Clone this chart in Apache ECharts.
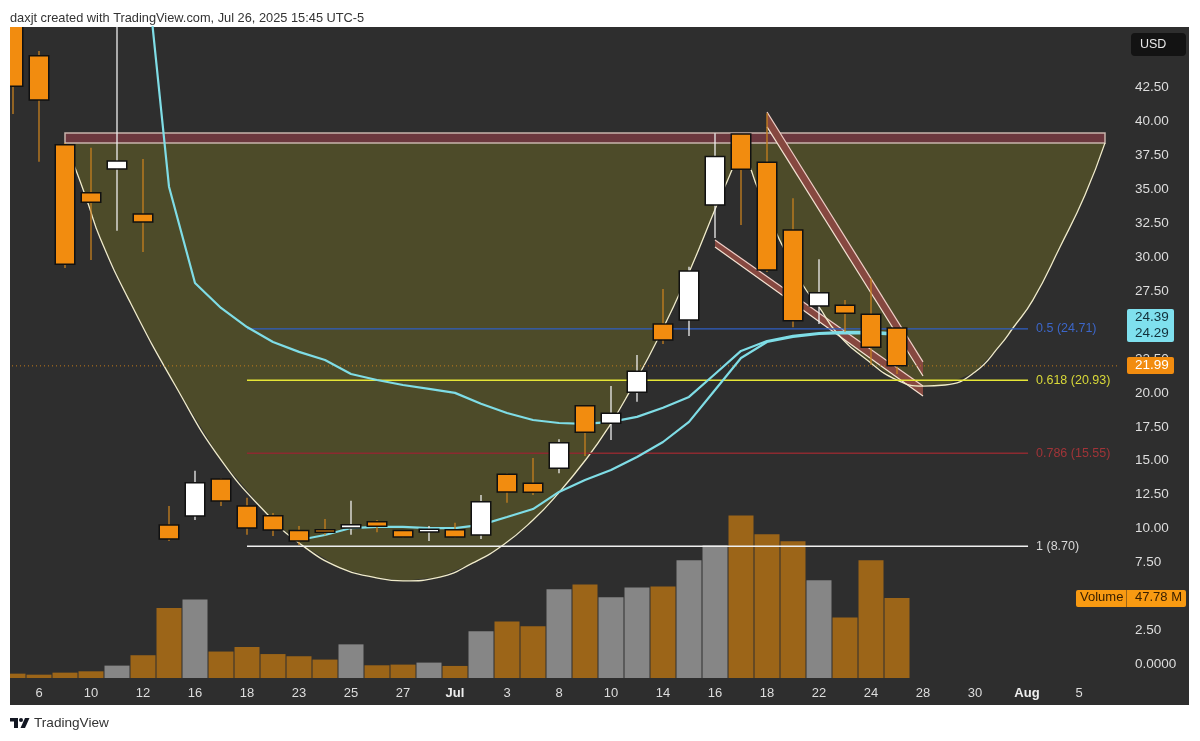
<!DOCTYPE html>
<html>
<head>
<meta charset="utf-8">
<title>daxjt TradingView</title>
<script src="https://cdn.jsdelivr.net/npm/echarts@6/dist/echarts.min.js"></script>
<style>
    html, body { margin: 0; padding: 0; background: #fff; }
    #myChartArea { width: 1200px; height: 741px; }
</style>
</head>
<body>
<div id="myChartArea"></div>
<script>
// x axis labels, one per bar slot (only every second slot is printed)
var dates = ['5', '6', '9', '10', '11', '12', '13', '16', '17', '18', '20', '23', '24', '25', '26', '27', '30', 'Jul',
    '2', '3', '7', '8', '9', '10', '11', '14', '15', '16', '17', '18', '21', '22', '23', '24', '25', '28', '29', '30',
    '31', 'Aug', '4', '5', '6'];

// [open, close, low, high]
var candles = [
    [52, 42.6, 40.55, 55], [44.85, 41.58, 37.04, 45.2], [38.29, 29.48, 29.2, 38.42], [34.75, 34.04, 29.79, 38.07],
    [36.5, 37.09, 31.95, 60], [33.18, 32.59, 30.38, 37.24], [10.27, 9.23, 9.09, 11.67], [10.93, 13.38, 10.63, 14.27],
    [13.65, 12.03, 11.67, 13.7], [11.67, 10.04, 9.55, 12.28], [10.95, 9.9, 9.45, 11.15], [9.85, 9.09, 8.79, 10.19],
    [9.92, 9.73, 9.5, 10.71], [10.04, 10.29, 9.55, 12.06], [10.51, 10.17, 9.73, 10.63], [9.85, 9.38, 9.35, 9.9],
    [9.75, 9.95, 9.09, 10.19], [9.92, 9.38, 9.35, 10.43], [9.53, 11.98, 9.23, 12.48], [14.0, 12.7, 11.91, 14.05],
    [13.34, 12.68, 12.48, 15.2], [14.44, 16.33, 14.08, 16.58], [19.06, 17.1, 15.35, 19.07], [17.76, 18.5, 16.53, 20.5],
    [20.04, 21.6, 19.35, 22.8], [25.08, 23.9, 23.6, 27.66], [25.37, 28.98, 24.19, 29.3], [33.85, 37.41, 31.41, 39.13],
    [39.08, 36.48, 32.37, 39.1], [36.99, 29.05, 28.9, 40.6], [32.0, 25.32, 24.83, 34.34], [26.4, 27.38, 25.08, 29.85],
    [26.45, 25.87, 24.51, 26.85], [25.79, 23.36, 22.06, 28.44], [24.78, 21.99, 21.39, 24.8]
];

// millions
var volumes = [2.6, 2.0, 3.2, 4.0, 7.4, 13.6, 41.8, 46.8, 15.8, 18.5, 14.3, 13, 11, 20.1, 7.6, 8, 9.2, 7.2, 27.9, 33.7,
    30.9, 53, 55.9, 48.2, 54.1, 54.7, 70.3, 79.2, 97.1, 85.8, 81.6, 58.3, 36.2, 70.3, 47.78];

// moving averages, [bar index, price]
var emaLong = [[5, 53.9], [6, 35.19], [7, 28.1], [8, 26.26], [9, 24.85], [10, 23.75], [11, 23.02], [12, 22.42], [13, 21.39],
    [14, 20.95], [15, 20.58], [16, 20.29], [17, 20.0], [18, 19.2], [19, 18.52], [20, 18.0], [21, 17.78], [22, 17.71],
    [23, 17.86], [24, 18.23], [25, 18.9], [26, 19.7], [27, 21.39], [28, 23.09], [29, 23.82], [30, 24.2], [31, 24.41],
    [32, 24.49], [33, 24.49], [34, 24.39]];
var emaShort = [[11, 9.16], [12, 9.53], [13, 10.04], [14, 10.12], [15, 10.12], [16, 10.04], [17, 10.04], [18, 10.27],
    [19, 10.85], [20, 11.44], [21, 12.7], [22, 13.58], [23, 14.32], [24, 15.28], [25, 16.38], [26, 17.86], [27, 20.21],
    [28, 22.57], [29, 23.75], [30, 24.12], [31, 24.34], [32, 24.41], [33, 24.38], [34, 24.29]];

// cup drawing, two arcs meeting at the rim
var cupLeft = [[2, 38.42], [2.42, 36.42], [2.88, 33.99], [3.35, 31.41], [4.46, 26.85], [6.23, 20.58], [8, 15.06], [9.81, 11.0],
    [11, 8.94], [12.58, 7.1], [13.85, 6.43], [15, 6.14], [16.42, 6.43], [17.69, 7.47], [18.85, 8.79], [20, 10.63],
    [20.92, 12.48], [22.08, 15.2], [22.96, 17.63], [23.69, 20.0], [24.88, 24.27], [26.04, 29.06], [27.04, 33.7],
    [27.65, 36.43], [28.04, 38.42]];
var cupRight = [[28.04, 38.42], [28.38, 36.5], [28.62, 35.18], [29.38, 31.71], [29.62, 30.75], [30.38, 27.95], [31, 26.33],
    [31.69, 24.41], [32.85, 22.42], [34, 20.95], [35, 20.5], [35.85, 20.58], [37, 21.54], [37.96, 23.5], [38.46, 24.78],
    [39.23, 26.85], [40.27, 30.75], [41.23, 34.58], [42, 38.42]];
var rim = [[2, 39.15], [42, 38.42]];

// falling channels: two edges each
var upperChannel = [[[29, 40.7], [35, 22.28]], [[29, 39.6], [35, 21.24]]];
var lowerChannel = [[[27, 31.27], [35, 20.5]], [[27, 30.75], [35, 19.77]]];

var fibLevels = [
    {name: '0.5 (24.71)', value: 24.71, color: '#2f5fc4', text: '#3c66c8'},
    {name: '0.618 (20.93)', value: 20.93, color: '#e6e636', text: '#d8d838'},
    {name: '0.786 (15.55)', value: 15.55, color: '#8c2a30', text: '#a03438'},
    {name: '1 (8.70)', value: 8.70, color: '#efefef', text: '#d8d8d8'}
];
var fibRange = [9, 39.04];

var lastPrice = 21.99;
var priceTicks = [0, 2.5, 7.5, 10, 12.5, 15, 17.5, 20, 22.5, 27.5, 30, 32.5, 35, 37.5, 40, 42.5];

var fontName = '"Liberation Sans", Arial, sans-serif';

var myChart = echarts.init(document.getElementById('myChartArea'));

function toCoords(api, pts) {
    return pts.map(function (p) { return api.coord(p); });
}

// band between two edges, the edges are stroked and the ends are open
function channelSeries(edges) {
    return {
        type: 'custom',
        xAxisIndex: 1,
        yAxisIndex: 0,
        silent: true,
        data: [[0, 0]],
        renderItem: function (params, api) {
            var a = toCoords(api, edges[0]), b = toCoords(api, edges[1]);
            return {
                type: 'group',
                children: [
                    {type: 'polygon', shape: {points: [a[0], a[1], b[1], b[0]]}, style: {fill: '#864840'}},
                    {type: 'polyline', shape: {points: a}, style: {fill: null, stroke: '#f0cfc8', lineWidth: 1.2}},
                    {type: 'polyline', shape: {points: b}, style: {fill: null, stroke: '#f4e4d4', lineWidth: 1.2}}
                ]
            };
        }
    };
}

function lineSeries(name, data, color, width, extra) {
    var s = {
        name: name,
        type: 'line',
        xAxisIndex: 1,
        yAxisIndex: 0,
        data: data,
        symbol: 'none',
        silent: true,
        lineStyle: {color: color, width: width}
    };
    for (var k in extra) { s[k] = extra[k]; }
    return s;
}

var series = [];

series.push({
    name: 'Volume',
    type: 'bar',
    xAxisIndex: 0,
    yAxisIndex: 1,
    barWidth: 25,
    silent: true,
    data: volumes.map(function (v, i) {
        var up = candles[i][1] >= candles[i][0];
        return {value: v, itemStyle: {color: up ? '#868686' : '#9c6518'}};
    })
});

// cup fill
series.push({
    type: 'custom',
    xAxisIndex: 1,
    yAxisIndex: 0,
    silent: true,
    data: [[0, 0]],
    renderItem: function (params, api) {
        return {
            type: 'polygon',
            shape: {points: toCoords(api, cupLeft.concat(cupRight))},
            style: {fill: '#4d4b29'}
        };
    }
});

// rim
series.push({
    type: 'custom',
    xAxisIndex: 1,
    yAxisIndex: 0,
    silent: true,
    data: [[0, 0]],
    renderItem: function (params, api) {
        var a = api.coord(rim[0]), b = api.coord(rim[1]);
        return {
            type: 'rect',
            shape: {x: a[0], y: a[1], width: b[0] - a[0], height: b[1] - a[1]},
            style: {fill: '#6c383e', stroke: '#c8b4ac', lineWidth: 1.5}
        };
    }
});

series.push(channelSeries(upperChannel));
series.push(channelSeries(lowerChannel));

series.push(lineSeries('cupLeft', cupLeft, '#f0ebca', 1.3, {smooth: 0.5}));
series.push(lineSeries('cupRight', cupRight, '#f0ebca', 1.3, {smooth: 0.5}));

fibLevels.forEach(function (f) {
    series.push(lineSeries(f.name, [[fibRange[0], f.value], [fibRange[1], f.value]], f.color, 1.3, {
        endLabel: {
            show: true,
            formatter: f.name,
            color: f.text,
            fontSize: 12.5,
            fontFamily: fontName,
            distance: 8
        }
    }));
});

series.push(lineSeries('last', [[-0.5, lastPrice], [42.85, lastPrice]], '#c27a1c', 1, {
    clip: false,
    lineStyle: {color: '#c27a1c', width: 1, type: [1, 3]}
}));

series.push(lineSeries('emaLong', emaLong, '#7fdde6', 2.2));
series.push(lineSeries('emaShort', emaShort, '#7fdde6', 2.2));

// drawn by hand because the wick colour differs from the black body border
series.push({
    name: 'Price',
    type: 'custom',
    z: 5,
    xAxisIndex: 0,
    yAxisIndex: 0,
    clip: true,
    silent: true,
    encode: {x: 0, y: [1, 2, 3, 4]},
    data: candles.map(function (c, i) { return [i, c[0], c[1], c[2], c[3]]; }),
    renderItem: function (params, api) {
        var i = api.value(0), open = api.value(1), close = api.value(2), low = api.value(3), high = api.value(4);
        var up = close >= open;
        var color = up ? '#ffffff' : '#f28c0f';
        var top = api.coord([i, Math.max(open, close)]);
        var bot = api.coord([i, Math.min(open, close)]);
        var hi = api.coord([i, high]);
        var lo = api.coord([i, low]);
        return {
            type: 'group',
            children: [
                {
                    type: 'line',
                    shape: {x1: top[0], y1: hi[1], x2: top[0], y2: lo[1]},
                    style: {stroke: up ? '#eeeeee' : '#c8801e', lineWidth: 1.3}
                },
                {
                    type: 'rect',
                    shape: {x: top[0] - 9.75, y: top[1], width: 19.5, height: bot[1] - top[1]},
                    style: {fill: color, stroke: '#111111', lineWidth: 1.5}
                }
            ]
        };
    }
});

var option = {
    animation: false,
    backgroundColor: '#ffffff',
    title: {
        text: 'daxjt created with TradingView.com, Jul 26, 2025 15:45 UTC-5',
        left: 10,
        top: 12,
        padding: 0,
        textStyle: {color: '#333333', fontSize: 12.8, fontWeight: 'normal', fontFamily: fontName}
    },
    grid: {left: 0, top: 27, width: 1118, height: 653, containLabel: false},
    xAxis: [
        {
            type: 'category',
            data: dates,
            boundaryGap: true,
            axisLine: {show: false},
            axisTick: {show: false},
            splitLine: {show: false},
            axisLabel: {
                interval: function (i) { return i % 2 === 1; },
                color: '#dddddd',
                fontSize: 13,
                fontFamily: fontName,
                margin: 7,
                formatter: function (v) {
                    return (v === 'Jul' || v === 'Aug') ? '{b|' + v + '}' : v;
                },
                rich: {b: {fontWeight: 'bold', color: '#eeeeee', fontSize: 13, fontFamily: fontName}}
            }
        },
        {type: 'value', show: false, min: -0.5, max: 42.5, splitLine: {show: false}}
    ],
    yAxis: [
        {
            type: 'value',
            position: 'right',
            min: -1.157,
            max: 46.96,
            axisLine: {show: false},
            axisTick: {show: false},
            splitLine: {show: false},
            axisLabel: {
                customValues: priceTicks,
                color: '#dddddd',
                fontSize: 13.5,
                fontFamily: fontName,
                margin: 17,
                formatter: function (v) { return v === 0 ? '0.0000' : v.toFixed(2); }
            }
        },
        // volume overlay, hidden
        {type: 'value', show: false, min: -1.19, max: 388.7, splitLine: {show: false}}
    ],
    series: series,
    graphic: [
        {type: 'rect', z: -10, shape: {x: 10, y: 27, width: 1179, height: 678}, style: {fill: '#2e2e2e'}},
        {type: 'rect', z: 100, shape: {x: 0, y: 20, width: 10, height: 700}, style: {fill: '#ffffff'}},

        {type: 'rect', z: 101, shape: {x: 1131, y: 33, width: 55, height: 23, r: 4}, style: {fill: '#131313'}},
        {type: 'text', z: 102, style: {x: 1140, y: 38, text: 'USD', fill: '#e8e8e8', font: '12.5px ' + fontName}},

        {type: 'rect', z: 101, shape: {x: 1127, y: 309, width: 47, height: 33, r: 2}, style: {fill: '#7fe0ee'}},
        {type: 'text', z: 102, style: {x: 1135, y: 310, text: '24.39', fill: '#12303a', font: '13.5px ' + fontName}},
        {type: 'text', z: 102, style: {x: 1135, y: 326, text: '24.29', fill: '#12303a', font: '13.5px ' + fontName}},

        {type: 'rect', z: 101, shape: {x: 1127, y: 357, width: 47, height: 17, r: 2}, style: {fill: '#f28c0f'}},
        {type: 'text', z: 102, style: {x: 1135, y: 358, text: '21.99', fill: '#ffffff', font: '13.5px ' + fontName}},

        {type: 'rect', z: 101, shape: {x: 1076, y: 590, width: 110, height: 17, r: 2}, style: {fill: '#f89a12'}},
        {type: 'rect', z: 102, shape: {x: 1126, y: 590, width: 1, height: 17}, style: {fill: '#9c6518'}},
        {type: 'text', z: 102, style: {x: 1080, y: 591, text: 'Volume', fill: '#3a2000', font: '13px ' + fontName}},
        {type: 'text', z: 102, style: {x: 1135, y: 591, text: '47.78 M', fill: '#3a2000', font: '13px ' + fontName}},

        // logo
        {type: 'rect', z: 10, shape: {x: 10, y: 718, width: 8, height: 3.5}, style: {fill: '#131722'}},
        {type: 'rect', z: 10, shape: {x: 14, y: 718, width: 4, height: 10}, style: {fill: '#131722'}},
        {type: 'circle', z: 10, shape: {cx: 21, cy: 720, r: 2}, style: {fill: '#131722'}},
        {type: 'polygon', z: 10, shape: {points: [[25, 718], [29.5, 718], [25, 728], [20.5, 728]]}, style: {fill: '#131722'}},
        {type: 'text', z: 10, style: {x: 34, y: 716, text: 'TradingView', fill: '#333333', font: '13.6px ' + fontName}}
    ]
};

myChart.setOption(option);
</script>
</body>
</html>
